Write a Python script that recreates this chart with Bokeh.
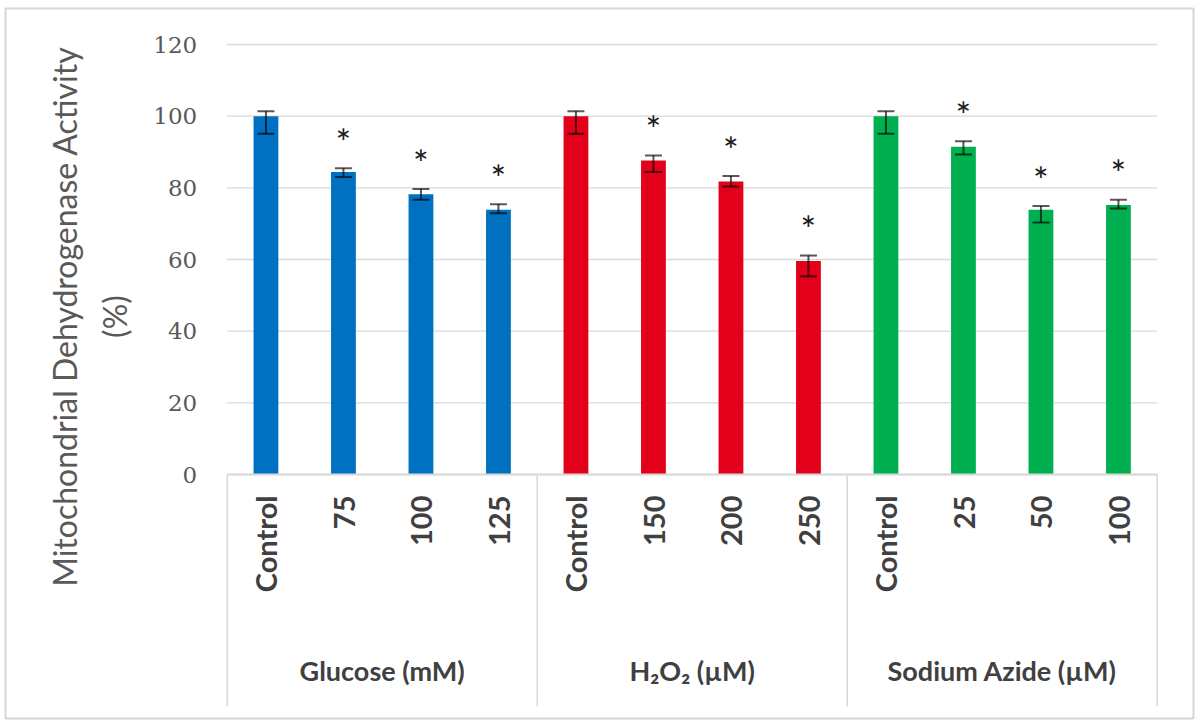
import numpy as np
from bokeh.plotting import figure
from bokeh.models import ColumnDataSource, Range1d, FixedTicker, Whisker, TeeHead
from bokeh.core.properties import value
from bokeh.embed import file_html
from bokeh.resources import INLINE

# ---------------- data ----------------
groups = ["Glucose (mM)", "H₂O₂ (µM)", "Sodium Azide (µM)"]
glucose_labels = ["Control", "75", "100", "125"]
h2o2_labels = ["Control", "150", "200", "250"]
azide_labels = ["Control", "25", "50", "100"]

glucose_vals = [100.0, 84.4, 78.2, 73.9]
h2o2_vals = [100.0, 87.6, 81.8, 59.6]
azide_vals = [100.0, 91.5, 73.9, 75.2]

glucose_err_up = [1.4, 1.1, 1.5, 1.5]
glucose_err_lo = [4.9, 1.4, 1.5, 1.0]
h2o2_err_up = [1.4, 1.4, 1.5, 1.5]
h2o2_err_lo = [4.9, 3.2, 1.4, 4.3]
azide_err_up = [1.4, 1.5, 1.0, 1.5]
azide_err_lo = [4.9, 2.2, 3.6, 1.0]

significant = [False, True, True, True]

group_colors = ["#0070C0", "#E3001B", "#00B050"]
y_ticks = [0, 20, 40, 60, 80, 100, 120]
y_title = "Mitochondrial Dehydrogenase Activity\n(%)"

# ---------------- page geometry (pixels) ----------------
W, H = 1200, 728
CAT_PX = 77.5            # width of one category slot
AREA_LEFT_PX = 226.7     # left edge of the category area
ZERO_PX = 474.0          # y pixel of value 0
UNIT_PX = 430.0 / 120.0  # pixels per value unit


def px_x(px):
    return (px - AREA_LEFT_PX) / CAT_PX - 0.5


def px_y(py):
    return (ZERO_PX - py) / UNIT_PX


# ---------------- build sources ----------------
sub_labels = [glucose_labels, h2o2_labels, azide_labels]
vals = [glucose_vals, h2o2_vals, azide_vals]
ups = [glucose_err_up, h2o2_err_up, azide_err_up]
los = [glucose_err_lo, h2o2_err_lo, azide_err_lo]

xs, names, tops, uppers, lowers, cols = [], [], [], [], [], []
star_x, star_y = [], []
group_centers, seps = [], [-0.5]
STAR_GAP = 9.7
k = 0
for g, labs, v, u, l, c in zip(groups, sub_labels, vals, ups, los, group_colors):
    start = k
    for i, lab in enumerate(labs):
        xs.append(k)
        names.append(lab)
        tops.append(v[i])
        uppers.append(v[i] + u[i])
        lowers.append(v[i] - l[i])
        cols.append(c)
        if significant[i]:
            star_x.append(k)
            star_y.append(v[i] + u[i] + STAR_GAP)
        k += 1
    group_centers.append((start + k - 1) / 2)
    seps.append(k - 0.5)

src = ColumnDataSource(dict(x=xs, top=tops, upper=uppers, lower=lowers, color=cols))
star_src = ColumnDataSource(dict(x=star_x, y=star_y, t=["*"] * len(star_x)))

Y_BOTTOM = px_y(706)     # bottom of the category label box
p = figure(x_range=Range1d(px_x(0), px_x(W)), y_range=Range1d(px_y(H), px_y(0)),
           width=W, height=H, output_backend="svg", toolbar_location=None,
           min_border=0, outline_line_color=None)

# outer border of the chart area
p.quad(left=px_x(5), right=px_x(1193), top=px_y(8), bottom=px_y(718),
       fill_color=None, line_color="#D6D6D6", line_width=2)

# horizontal gridlines (only over the category area)
p.segment(x0=[seps[0]] * len(y_ticks), x1=[seps[-1]] * len(y_ticks),
          y0=y_ticks, y1=y_ticks, line_color="#D9D9D9", line_width=1.3)

# group separators
p.segment(x0=seps, x1=seps, y0=[0] * len(seps), y1=[Y_BOTTOM] * len(seps),
          line_color="#D9D9D9", line_width=1.5)

# bars
p.vbar(x="x", top="top", bottom=0, width=0.32, fill_color="color",
       line_color=None, source=src)

# error bars
err_kw = dict(line_color="black", line_alpha=0.65, line_width=2)
p.add_layout(Whisker(source=src, base="x", upper="upper", lower="lower",
                     level="annotation",
                     upper_head=TeeHead(size=17, **err_kw),
                     lower_head=TeeHead(size=17, **err_kw), **err_kw))

# significance asterisks
p.text(x="x", y="y", text="t", source=star_src, text_align="center",
       text_baseline="middle", text_font_size="37px", text_color="#1a1a1a",
       text_font=value("Lato"), y_offset=8)

# group labels
p.text(x=group_centers, y=[px_y(670)] * len(groups), text=groups,
       text_align="center", text_baseline="middle", text_font=value("Lato"),
       text_font_style="bold", text_font_size="27px", text_color="#404040")

# y axis title
p.text(x=[px_x(89)], y=[px_y(316)], text=[y_title], angle=np.pi / 2,
       text_align="center", text_baseline="middle", text_font=value("Lato"),
       text_font_size="32px", text_color="#595959", text_line_height=1.3)

# grid off (drawn above as segments)
p.xgrid.grid_line_color = None
p.ygrid.grid_line_color = None

# x axis: category labels
xa = p.xaxis[0]
xa.fixed_location = 0
xa.bounds = (seps[0], seps[-1])
xa.ticker = FixedTicker(ticks=xs)
xa.major_label_overrides = {x: n for x, n in zip(xs, names)}
xa.axis_line_color = "#D9D9D9"
xa.axis_line_width = 2
xa.major_tick_line_color = None
xa.minor_tick_line_color = None
xa.major_tick_out = 0
xa.major_tick_in = 0
xa.major_label_orientation = np.pi / 2
xa.major_label_standoff = 21
xa.major_label_text_font = "Lato"
xa.major_label_text_font_style = "bold"
xa.major_label_text_font_size = "29px"
xa.major_label_text_color = "#404040"

# y axis: values
ya = p.yaxis[0]
ya.fixed_location = seps[0]
ya.ticker = FixedTicker(ticks=y_ticks)
ya.axis_line_color = None
ya.major_tick_line_color = None
ya.minor_tick_line_color = None
ya.major_tick_out = 0
ya.major_tick_in = 0
ya.major_label_standoff = 30
ya.major_label_text_font = "DejaVu Serif"
ya.major_label_text_font_size = "23px"
ya.major_label_text_color = "#595959"

open("out.html", "w").write(file_html(p, INLINE))
